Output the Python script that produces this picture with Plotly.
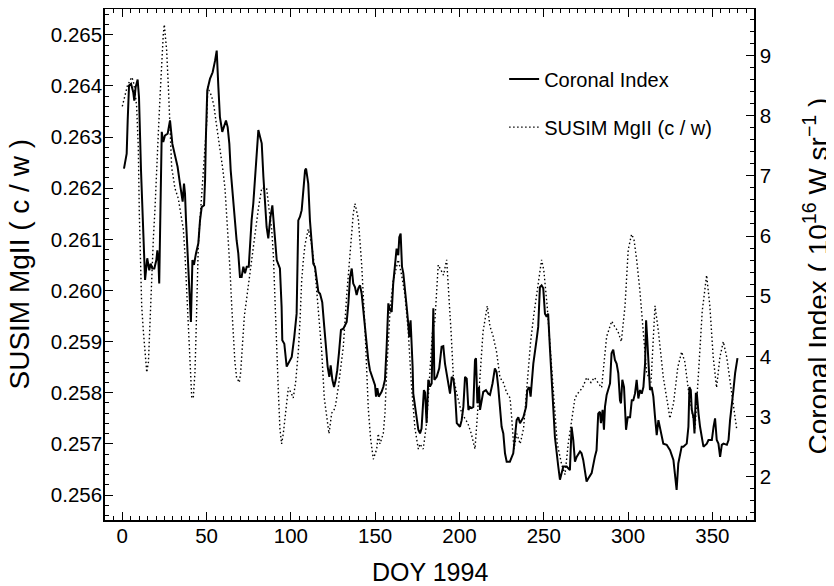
import plotly.graph_objects as go

# Coronal index (right axis, 10^16 W sr^-1)
ci_days = [1.0, 2.6, 3.2, 4.0, 5.2, 6.5, 7.1, 7.9, 9.1, 9.9, 11.1, 12.3, 13.5, 14.8, 16.0, 16.8, 17.8, 19.0,
           20.2, 20.8, 21.4, 21.9, 23.4, 24.3, 25.3, 26.9, 28.3, 29.7, 31.2, 32.8, 34.2, 35.2, 35.8, 36.6,
           37.2, 37.8, 38.8, 39.6, 40.7, 41.6, 42.5, 43.7, 45.1, 46.1, 47.1, 48.5, 49.1, 49.6, 50.4, 52.0,
           53.6, 55.0, 56.0, 57.0, 57.9, 59.3, 60.5, 61.5, 62.5, 63.5, 64.3, 65.5, 66.5, 67.8, 68.8, 69.8,
           70.8, 71.8, 72.8, 73.8, 75.0, 75.7, 76.7, 77.7, 78.7, 79.7, 80.7, 81.7, 82.7, 83.7, 84.6, 85.6,
           86.6, 87.8, 89.0, 90.3, 91.6, 93.5, 94.5, 94.9, 96.1, 97.5, 98.9, 100.5, 102.0, 103.4, 104.4,
           105.4, 106.4, 107.4, 108.4, 109.0, 110.3, 111.3, 112.3, 113.3, 114.3, 115.3, 116.3, 117.3, 118.6,
           119.8, 120.8, 121.8, 122.8, 123.6, 124.6, 125.6, 126.6, 127.5, 128.5, 129.7, 131.1, 132.1, 133.1,
           134.1, 135.1, 136.1, 137.0, 138.0, 139.0, 140.0, 141.0, 142.0, 142.9, 143.9, 144.9, 145.9, 146.9,
           147.9, 148.9, 149.9, 150.5, 151.3, 152.1, 152.8, 153.8, 154.8, 155.8, 156.8, 157.8, 158.8, 159.8,
           160.7, 161.7, 162.7, 163.7, 164.3, 165.1, 165.9, 166.7, 167.7, 168.7, 169.6, 170.2, 171.0, 171.6,
           172.2, 172.6, 173.6, 174.6, 175.6, 176.6, 177.5, 178.9, 179.6, 180.5, 181.5, 182.5, 183.5, 184.5,
           185.1, 186.5, 188.0, 189.4, 190.4, 191.4, 193.4, 194.4, 195.4, 196.4, 197.4, 198.4, 200.3, 201.3,
           202.3, 203.3, 204.3, 205.3, 206.2, 207.2, 208.2, 209.2, 209.8, 210.6, 211.6, 212.2, 213.2, 214.1,
           215.7, 217.1, 218.1, 219.6, 221.0, 222.0, 223.0, 224.0, 225.0, 226.0, 227.0, 228.0, 229.9, 231.9,
           232.9, 233.9, 234.9, 235.9, 237.9, 239.5, 240.2, 241.4, 242.2, 243.8, 245.7, 246.7, 247.7, 248.7,
           249.7, 250.7, 251.7, 252.6, 253.6, 254.6, 255.6, 256.6, 258.6, 259.6, 260.6, 261.6, 263.6, 265.5,
           266.5, 267.5, 268.5, 269.5, 271.5, 272.4, 273.4, 274.4, 275.4, 276.4, 278.4, 280.3, 281.3, 282.3,
           283.3, 283.9, 284.9, 285.7, 286.3, 287.3, 288.3, 289.3, 290.2, 291.2, 292.2, 293.2, 294.2, 295.2,
           295.8, 296.6, 297.6, 298.8, 299.8, 301.2, 302.2, 303.1, 304.1, 305.1, 306.1, 307.1, 308.1, 309.1,
           310.1, 310.7, 311.4, 312.2, 313.0, 314.0, 315.0, 316.0, 317.0, 318.0, 318.9, 320.9, 322.9, 324.9,
           326.9, 327.9, 328.8, 329.8, 330.8, 331.8, 332.8, 334.8, 335.8, 336.4, 337.2, 337.8, 338.8, 339.4,
           340.2, 340.8, 341.8, 342.7, 344.7, 346.7, 347.7, 349.7, 350.7, 351.6, 352.6, 353.6, 354.6, 355.6,
           356.6, 358.6, 359.6, 360.5, 362.5, 363.5, 364.9]
ci_vals = [7.12, 7.37, 7.92, 8.50, 8.53, 8.39, 8.25, 8.47, 8.60, 8.31, 7.09, 5.98, 5.27, 5.63, 5.43, 5.54, 5.46, 5.46,
           5.60, 5.76, 5.60, 5.21, 7.73, 7.56, 7.67, 7.70, 7.92, 7.53, 7.34, 7.15, 6.87, 6.65, 6.57, 6.87,
           6.70, 6.26, 5.71, 5.15, 4.57, 5.60, 5.52, 5.71, 5.88, 6.26, 6.48, 6.51, 6.93, 7.65, 8.42, 8.61,
           8.72, 8.91, 9.08, 8.47, 7.98, 7.73, 7.84, 7.92, 7.81, 7.53, 7.09, 6.65, 6.26, 5.93, 5.71, 5.32,
           5.32, 5.49, 5.38, 5.49, 5.49, 5.82, 6.26, 6.54, 6.93, 7.37, 7.76, 7.65, 7.54, 6.98, 6.48, 6.15,
           5.96, 6.30, 6.51, 6.00, 5.60, 5.46, 4.82, 4.27, 4.21, 3.83, 3.91, 3.99, 4.32, 4.71, 6.26,
           6.32, 6.43, 6.76, 7.09, 7.12, 6.87, 6.26, 5.82, 5.54, 5.49, 5.27, 5.07, 5.04, 4.90,
           4.49, 4.10, 3.83, 3.66, 3.85, 3.61, 3.49, 3.61, 3.77, 4.05, 4.44, 4.46, 4.52, 4.57,
           4.88, 5.32, 5.46, 5.21, 5.15, 5.02, 5.13, 5.18, 5.04, 4.77, 4.49, 4.21, 3.94, 3.77,
           3.69, 3.58, 3.52, 3.33, 3.47, 3.33, 3.36, 3.41, 3.49, 3.61, 4.16, 4.88, 4.77, 4.74,
           5.21, 5.49, 5.79, 5.68, 5.98, 6.04, 5.49, 5.38, 5.15, 4.82, 4.55, 4.32, 4.60, 4.27,
           3.83, 3.38, 3.16, 2.94, 2.78, 2.72, 2.80, 3.44, 3.40, 2.89, 3.61, 3.50, 3.55, 4.80,
           3.61, 3.66, 3.80, 4.16, 4.17, 3.88, 3.49, 3.38, 3.66, 3.63, 3.38, 2.89, 2.83, 2.94,
           3.16, 3.66, 3.63, 3.11, 3.16, 3.14, 3.16, 3.94, 3.97, 3.22, 3.49, 3.11, 3.27, 3.41,
           3.44, 3.38, 3.36, 3.55, 3.80, 3.74, 3.49, 3.11, 2.83, 2.72, 2.39, 2.25, 2.25, 2.39,
           2.72, 2.94, 2.99, 2.89, 2.99, 3.16, 3.44, 3.49, 3.33, 3.88, 4.27, 4.49, 5.15, 5.18,
           5.13, 4.71, 4.66, 4.71, 4.16, 3.61, 3.11, 2.66, 2.17, 1.95, 2.06, 2.17, 2.17, 2.11,
           2.83, 2.61, 2.25, 2.33, 2.42, 2.39, 2.28, 2.11, 1.92, 1.97, 2.06, 2.33, 2.44, 3.05,
           3.08, 2.89, 3.11, 2.78, 3.16, 3.36, 3.44, 3.55, 4.05, 4.11, 3.94, 3.88, 3.72, 3.27,
           3.22, 3.61, 3.49, 2.78, 2.99, 2.99, 3.27, 3.27, 3.38, 3.61, 3.30, 3.44, 3.38, 3.49,
           3.88, 4.60, 4.27, 3.77, 3.44, 3.49, 3.33, 2.99, 2.69, 2.94, 2.83, 2.55, 2.53, 2.44,
           2.28, 1.95, 1.78, 2.22, 2.39, 2.50, 2.50, 2.55, 2.83, 3.49, 3.44, 3.11, 2.99, 2.72,
           3.38, 3.38, 3.05, 2.83, 2.50, 2.55, 2.61, 2.61, 2.83, 2.97, 2.61, 2.55, 2.33, 2.53,
           2.55, 2.53, 2.61, 2.94, 3.44, 3.72, 3.97]

# SUSIM MgII core-to-wing ratio (left axis)
mg_days = [0.0, 1.5, 3.0, 4.5, 5.6, 6.5, 7.5, 8.5, 9.5, 10.1, 10.7, 11.5, 12.5, 13.5, 14.5, 15.5, 16.4, 17.4,
           18.4, 19.4, 20.4, 21.4, 22.4, 23.4, 24.3, 24.9, 26.3, 27.3, 28.3, 29.3, 30.3, 31.2, 32.2, 33.2,
           34.2, 35.2, 36.2, 37.2, 38.2, 39.2, 40.2, 41.2, 42.1, 43.1, 43.7, 44.1, 44.5, 45.1, 46.1, 47.1,
           48.0, 49.1, 50.1, 50.7, 51.6, 53.0, 54.4, 55.6, 57.0, 58.4, 59.5, 60.9, 61.9, 62.9, 63.9, 64.9,
           65.8, 66.8, 67.8, 69.4, 70.2, 71.2, 72.4, 74.0, 76.0, 78.0, 80.7, 82.7, 84.0, 85.6, 87.0, 88.6,
           89.6, 90.6, 91.8, 92.6, 93.5, 94.5, 95.5, 96.9, 98.5, 100.1, 101.4, 102.8, 104.4, 105.4, 106.4,
           107.4, 108.4, 110.3, 112.3, 114.3, 116.3, 118.3, 119.8, 121.2, 122.6, 124.2, 126.2, 128.1, 130.1,
           131.1, 133.1, 135.1, 137.0, 138.0, 140.0, 142.0, 143.9, 145.9, 147.3, 148.9, 150.9, 151.8, 152.8,
           154.8, 155.8, 156.8, 157.8, 158.8, 160.7, 162.7, 163.7, 165.7, 167.7, 169.6, 171.6, 173.6, 175.6,
           176.6, 178.5, 180.5, 182.0, 184.0, 185.4, 186.4, 187.4, 189.0, 190.5, 192.4, 193.4, 194.4, 195.0,
           196.4, 198.3, 201.3, 203.0, 205.0, 207.0, 209.2, 210.5, 212.0, 214.0, 216.5, 218.1, 220.0, 222.0,
           224.0, 226.0, 228.0, 230.0, 231.0, 232.3, 234.0, 236.0, 238.0, 240.0, 242.2, 244.0, 246.0, 248.7,
           250.0, 252.0, 254.0, 256.0, 258.0, 260.6, 262.6, 264.5, 266.9, 268.5, 270.5, 273.0, 275.5, 278.0,
           280.0, 282.0, 284.3, 287.3, 290.3, 292.0, 294.0, 296.0, 298.2, 300.1, 302.1, 303.5, 305.1, 307.0,
           309.0, 311.0, 313.6, 316.0, 318.0, 320.9, 323.9, 324.8, 327.0, 329.5, 331.8, 333.7, 336.0, 339.7,
           342.0, 344.0, 346.6, 348.5, 350.5, 352.5, 354.5, 356.5, 358.5, 360.5, 362.5, 364.4]
mg_vals = [0.2636, 0.2638, 0.2640, 0.2641, 0.26417, 0.2641, 0.2639, 0.2636, 0.2628, 0.2615, 0.2604, 0.2597, 0.2592,
           0.2588, 0.2584, 0.2586, 0.2594, 0.2601, 0.2610, 0.2616, 0.2625, 0.2631, 0.2638, 0.2645, 0.2650,
           0.2652, 0.2647, 0.2640, 0.2630, 0.2624, 0.2622, 0.2620, 0.2619, 0.2618, 0.2616, 0.2614, 0.2612,
           0.2607, 0.2600, 0.2592, 0.2585, 0.2579, 0.2579, 0.2584, 0.2591, 0.2597, 0.2604, 0.2609, 0.2614,
           0.2619, 0.2623, 0.2627, 0.2633, 0.2640, 0.2639, 0.2638, 0.2636, 0.2633, 0.2630, 0.2627, 0.2624,
           0.2620, 0.2615, 0.2610, 0.2604, 0.2597, 0.2591, 0.2586, 0.2583, 0.2582, 0.2584, 0.2590, 0.2595,
           0.2599, 0.2604, 0.2610, 0.2616, 0.2620, 0.2620, 0.2620, 0.2616, 0.2612, 0.2607, 0.2597, 0.2588,
           0.2580, 0.2573, 0.2570, 0.2572, 0.2576, 0.2581, 0.2580, 0.2579, 0.2582, 0.2588, 0.2594, 0.2602,
           0.2606, 0.2609, 0.2612, 0.2609, 0.2604, 0.2596, 0.2588, 0.2579, 0.2575, 0.2572, 0.2576, 0.2577,
           0.2581, 0.2586, 0.2589, 0.2599, 0.2608, 0.2615, 0.2617, 0.2614, 0.2605, 0.2593, 0.2577, 0.2571,
           0.2567, 0.2569, 0.2572, 0.2570, 0.2572, 0.2576, 0.2584, 0.2590, 0.2596, 0.2602, 0.2605, 0.2606,
           0.2603, 0.2599, 0.2592, 0.2581, 0.2573, 0.2569, 0.2570, 0.2569, 0.2574, 0.2582, 0.2592, 0.2594,
           0.2601, 0.2605, 0.2604, 0.2603, 0.2606, 0.2601, 0.2597, 0.2592, 0.2583, 0.2580, 0.2576, 0.2575,
           0.2574, 0.2572, 0.2569, 0.2575, 0.2582, 0.2592, 0.2597, 0.2593, 0.2591, 0.2588, 0.2583, 0.2582,
           0.2580, 0.2579, 0.2575, 0.2569, 0.2572, 0.2570, 0.2573, 0.2582, 0.2590, 0.2595, 0.2600, 0.2606,
           0.2604, 0.2597, 0.2588, 0.2579, 0.2570, 0.2566, 0.2564, 0.2570, 0.2575, 0.2579, 0.2580, 0.2581,
           0.2583, 0.2582, 0.2583, 0.2582, 0.2581, 0.2591, 0.2594, 0.2593, 0.2592, 0.2590, 0.2597, 0.2608,
           0.2611, 0.2610, 0.2606, 0.2600, 0.2591, 0.2584, 0.2582, 0.2597, 0.2592, 0.2583, 0.2577, 0.2575,
           0.2578, 0.2585, 0.2588, 0.2586, 0.2580, 0.2573, 0.2585, 0.2596, 0.2603, 0.2597, 0.2587, 0.2581,
           0.2587, 0.2590, 0.2587, 0.2582, 0.2577, 0.2573]

x_ticks = [0, 50, 100, 150, 200, 250, 300, 350]
left_ticks = [0.256, 0.257, 0.258, 0.259, 0.260, 0.261, 0.262, 0.263, 0.264, 0.265]
right_ticks = [2, 3, 4, 5, 6, 7, 8, 9]

FONT = "Liberation Sans, Arial, Helvetica, sans-serif"

fig = go.Figure()
fig.add_trace(go.Scatter(x=ci_days, y=ci_vals, mode="lines", name="Coronal Index",
                         line=dict(color="black", width=2), yaxis="y2", legendgroup="a"))
fig.add_trace(go.Scatter(x=mg_days, y=mg_vals, mode="lines", name="SUSIM MgII (c / w)",
                         line=dict(color="black", width=1.4, dash="1.5px,2.5px"), yaxis="y", legendgroup="b"))

tick_common = dict(ticks="inside", ticklen=8, tickwidth=1.2, tickcolor="black",
                   showline=True, linecolor="black", linewidth=1.5, showgrid=False, zeroline=False,
                   tickfont=dict(family=FONT, size=20.5, color="black"))

# The page body adds an 8px margin, so the figure is sized to fit the remaining window.
fig.update_layout(
    width=826, height=578,
    margin=dict(l=97, r=80, t=0.5, b=66),
    paper_bgcolor="white", plot_bgcolor="white",
    font=dict(family=FONT, color="black"),
    xaxis=dict(range=[-10.26, 374.7], tickvals=x_ticks, mirror="ticks", ticklabelstandoff=-3,
               minor=dict(dtick=5, tick0=0, ticks="inside", ticklen=4, tickcolor="black", tickwidth=1),
               **tick_common),
    yaxis=dict(range=[0.255512, 0.265504], tickvals=left_ticks, tickformat=".3f", ticklabelstandoff=-3,
               minor=dict(dtick=0.0002, tick0=0.256, ticks="inside", ticklen=4, tickcolor="black", tickwidth=1),
               **tick_common),
    yaxis2=dict(range=[1.281, 9.772], tickvals=right_ticks, overlaying="y", side="right", anchor="x",
                minor=dict(dtick=0.2, tick0=2, ticks="inside", ticklen=4, tickcolor="black", tickwidth=1),
                **tick_common),
    legend=dict(x=0.615, y=0.901, xanchor="left", yanchor="top", bgcolor="rgba(0,0,0,0)",
                font=dict(family=FONT, size=20, color="black"), tracegroupgap=19),
    showlegend=True,
    annotations=[
        dict(text="DOY 1994", xref="paper", yref="paper", x=0.5, y=-0.102, xanchor="center", yanchor="middle",
             showarrow=False, font=dict(family=FONT, size=25, color="black")),
        dict(text="SUSIM MgII ( c / w )", xref="paper", yref="paper", x=-0.131, y=0.50, xanchor="center",
             yanchor="middle", textangle=-90, showarrow=False, font=dict(family=FONT, size=28, color="black")),
        dict(text="Coronal Index ( 10<sup>16</sup> W sr<sup>−1</sup> )", xref="paper", yref="paper",
             x=1.096, y=0.477, xanchor="center", yanchor="middle", textangle=-90, showarrow=False,
             font=dict(family=FONT, size=28, color="black")),
    ],
)

fig.write_html("out.html")
